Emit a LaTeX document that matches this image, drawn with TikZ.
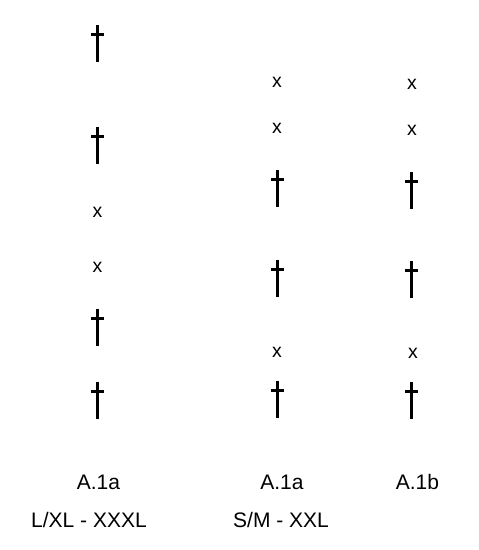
\documentclass[tikz,border=0pt]{standalone}
\usepackage{fontspec}
\setmainfont{Liberation Sans}
\usetikzlibrary{positioning}

\tikzset{
    xsign/.style={font=\fontsize{19.5}{22}\selectfont, inner sep=0pt},
    label text/.style={font=\fontsize{21}{24}\selectfont, inner sep=0pt},
    grave/.pic={
        \draw[line width=3pt] (0,0) -- (0,37);
        \draw[line width=2.6pt] (-6.5,9.5) -- (6.5,9.5);
    }
}

\begin{document}
\begin{tikzpicture}[x=1pt, y=-1pt]
    \useasboundingbox (0,0) rectangle (479,550);

    % column 1: L/XL - XXXL
    \foreach \t in {25,127,309,382}
        \pic at (97.5,\t) {grave};
    \node[xsign] (m11) at (97.5,212) {x};
    \node[xsign] (m12) at (97.5,267) {x};

    % column 2: S/M - XXL
    \foreach \t in {170,260,381}
        \pic at (277.5,\t) {grave};
    \node[xsign] (m21) at (277,82) {x};
    \node[xsign] (m22) at (277,128) {x};
    \node[xsign] (m23) at (277,352) {x};

    % column 3
    \foreach \t in {172,261,382}
        \pic at (411.5,\t) {grave};
    \node[xsign] (m31) at (412,84) {x};
    \node[xsign] (m32) at (412,130) {x};
    \node[xsign] (m33) at (413,353) {x};

    % labels
    \node[label text] (a1) at (98.5,482) {A.1a};
    \node[label text] (s1) at (89,520) {L/XL - XXXL};
    \node[label text] (a2) at (282,482) {A.1a};
    \node[label text] (s2) at (281,520) {S/M - XXL};
    \node[label text] (a3) at (417.5,482) {A.1b};
\end{tikzpicture}
\end{document}
